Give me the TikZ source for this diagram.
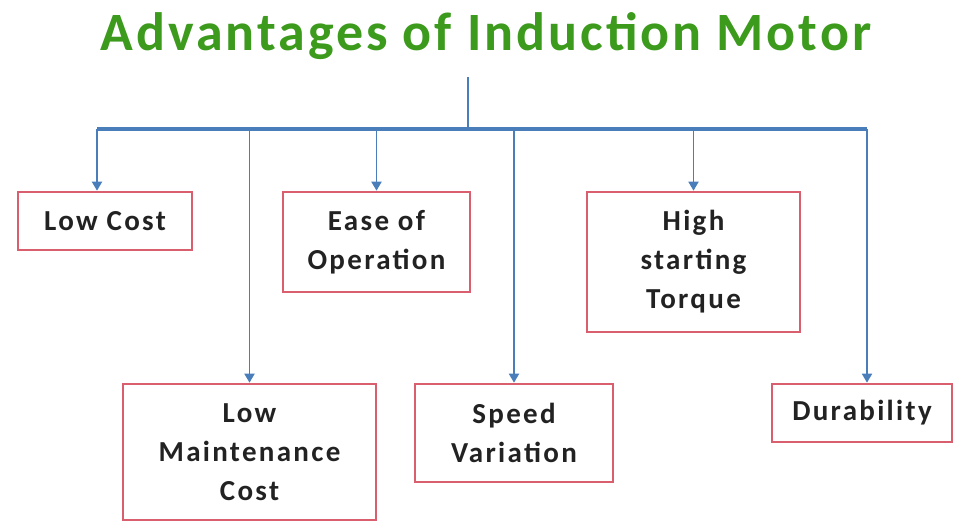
\documentclass[tikz,border=0pt]{standalone}
\usepackage{fontspec}
\setmainfont{Carlito}
\newfontfamily\boxfont{Carlito}[LetterSpace=8.0]
\newfontfamily\ttlfont{Carlito}[LetterSpace=5.5]
\usetikzlibrary{arrows.meta,positioning}
\definecolor{ttl}{HTML}{3C9A1C}
\definecolor{ln}{HTML}{4A7EBB}
\definecolor{rd}{HTML}{DA5F6E}
\definecolor{txt}{HTML}{222222}
\tikzset{
  adv/.style={draw=rd,line width=2.6pt,fill=white,align=center,inner sep=3pt,text=txt,
    font=\boxfont\bfseries\fontsize{29}{39}\selectfont},
  ln/.style={draw=ln,line width=1.8pt},
  ar/.style={ln,-{Triangle[length=9pt,width=10pt]}},
}
\begin{document}
\begin{tikzpicture}[x=1pt,y=-1pt]
\useasboundingbox (0,0) rectangle (959,522);
\node[anchor=base,text=ttl,font=\ttlfont\bfseries\fontsize{54}{60}\selectfont] (title) at (486,50) {Advantages of Induction Motor};
% boxes
\node[adv,minimum width=174pt,minimum height=58pt] (lowcost) at (105,221) {Low Cost};
\node[adv,minimum width=187pt,minimum height=100pt] (ease) at (376.5,242) {Ease of\\Operation};
\node[adv,minimum width=213pt,minimum height=140pt] (torque) at (693.5,262) {High\\starting\\Torque};
\node[adv,minimum width=253pt,minimum height=136pt] (maint) at (249.5,452) {Low\\Maintenance\\Cost};
\node[adv,minimum width=198pt,minimum height=98pt] (speed) at (514,433) {Speed\\Variation};
\node[adv,minimum width=180pt,minimum height=58pt] (dur) at (862,413) {Durability};
% tree
\coordinate (stem) at (468,77);
\coordinate (bus) at (468,129);
\coordinate (busL) at (97,129);
\coordinate (busR) at (867,129);
\draw[ln] (stem)--(bus);
\draw[ln,line width=3.2pt] (busL)--(busR);
\draw[ar] (busL)--(busL |- lowcost.north);
\draw[ar] (bus -| maint.north)--(maint.north);
\draw[ar] (bus -| ease.north)--(ease.north);
\draw[ar] (bus -| speed.north)--(speed.north);
\draw[ar] (bus -| torque.north)--(torque.north);
\draw[ar] (busR)--(busR |- dur.north);
\end{tikzpicture}
\end{document}
